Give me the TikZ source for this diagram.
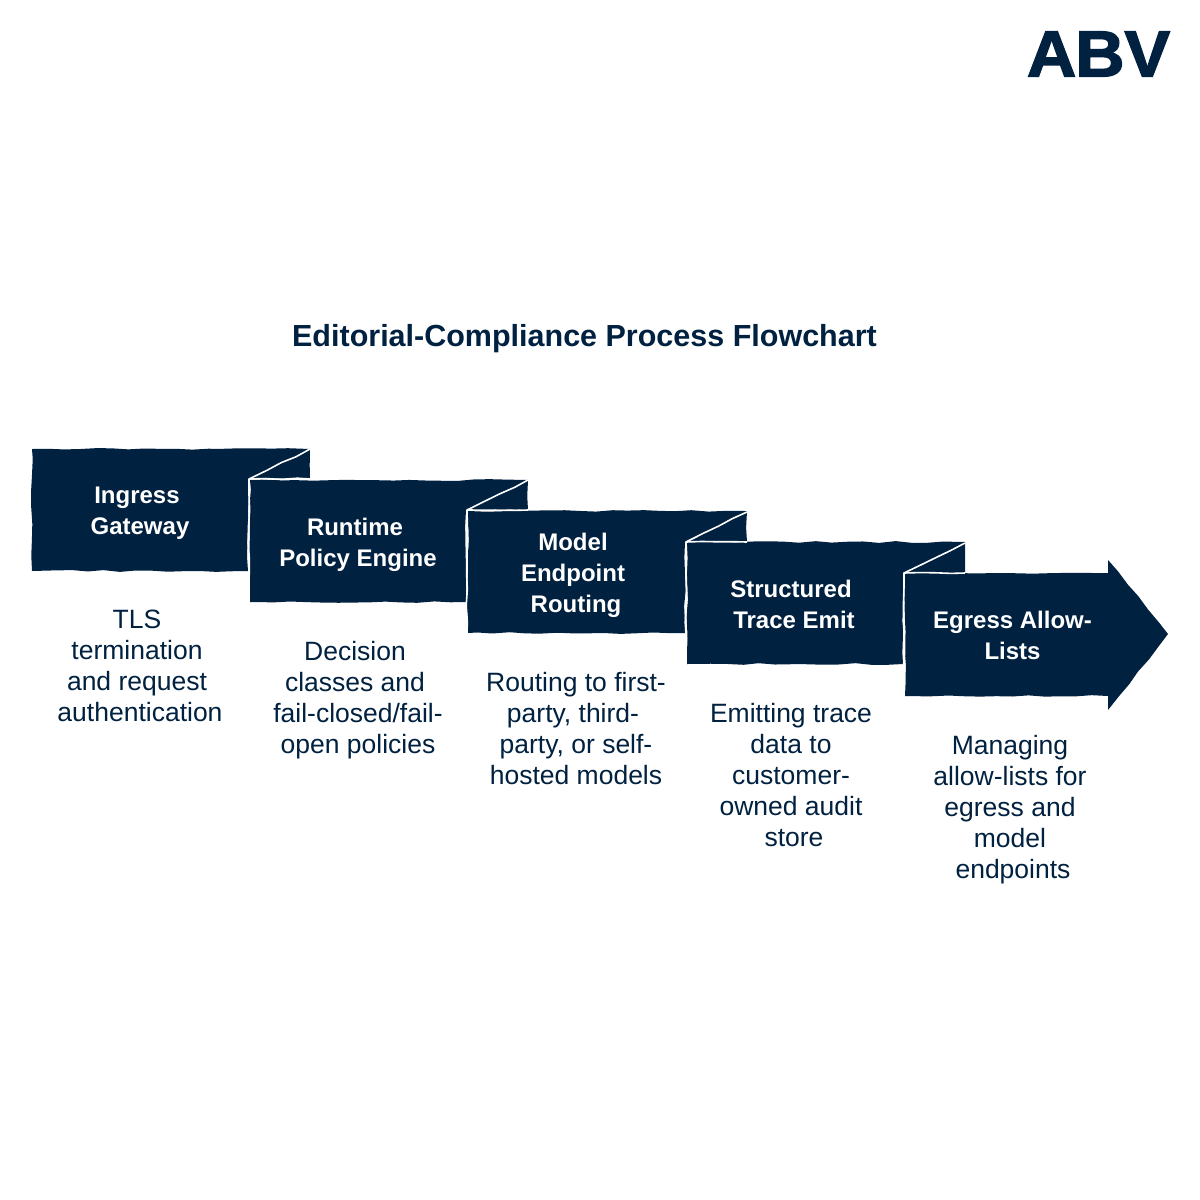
\documentclass[tikz,border=0pt]{standalone}
\usepackage{fontspec}
\setmainfont{Liberation Sans}
\newfontfamily\logofont[FakeBold=2.2,FakeStretch=1.05]{Liberation Sans Bold}
\usetikzlibrary{decorations.pathmorphing}
\definecolor{navy}{HTML}{012140}
\newcommand{\nudge}{\hspace*{6pt}}
\tikzset{
  x=1pt,y=-1pt,
  wob/.style={decorate,decoration={random steps,segment length=16pt,amplitude=0.9pt}},
  panel/.style={fill=navy,wob},
  fold/.style={draw=white,line width=1.6pt,line join=round,wob},
  headtext/.style={text=white,font=\fontsize{24}{31}\selectfont\bfseries,align=center,inner sep=0pt},
  desctext/.style={text=navy,font=\fontsize{26.5}{31}\selectfont,align=center,inner sep=0pt},
}
\begin{document}
\begin{tikzpicture}
\pgfmathsetseed{7}
\useasboundingbox (0,0) rectangle (1200,1200);
\fill[white] (0,0) rectangle (1200,1200);

\node[text=navy,font=\fontsize{65}{65}\logofont,inner sep=0pt] (logo) at (1098.5,54) {A\kern-1pt B\kern0pt V};
\node[text=navy,font=\fontsize{30.5}{36}\selectfont\bfseries,inner sep=0pt] (title) at (584.5,339) {Editorial-Compliance Process Flowchart};

% panels
\path[panel] (32,449) -- (310,449) -- (310,479) -- (248,479) -- (248,571) -- (32,571) -- cycle;
\path[panel] (250,480) -- (528,480) -- (528,510) -- (466,510) -- (466,602) -- (250,602) -- cycle;
\path[panel] (468,511) -- (747,511) -- (747,542) -- (685,542) -- (685,633) -- (468,633) -- cycle;
\path[panel] (687,542) -- (965,542) -- (965,573) -- (903,573) -- (903,664) -- (687,664) -- cycle;
\path[panel] (905,573) -- (1108,573) -- (1108,560) -- (1168,634) -- (1108,710) -- (1108,696) -- (905,696) -- cycle;

% folds
\draw[fold] (310,449) -- (249,479) -- (249,602);
\draw[fold] (249,479) -- (310,479);
\draw[fold] (528,480) -- (467,510) -- (467,633);
\draw[fold] (467,510) -- (528,510);
\draw[fold] (747,512) -- (686,542) -- (686,664);
\draw[fold] (686,542) -- (747,542);
\draw[fold] (965,543) -- (904,573) -- (904,696);
\draw[fold] (904,573) -- (965,573);

% headings
\node[headtext] (h1) at (137,513.5) {Ingress\\\nudge Gateway};
\node[headtext] (h2) at (355,544.5) {Runtime\\\nudge Policy Engine};
\node[headtext] (h3) at (573,575.5) {Model\\Endpoint\\\nudge Routing};
\node[headtext] (h4) at (791,604) {Structured\\\nudge Trace Emit};
\node[headtext] (h5) at (1012.5,635) {Egress Allow-\\Lists};

% descriptions
\node[desctext] (d1) at (137,666) {TLS\\termination\\and request\\\nudge authentication};
\node[desctext] (d2) at (355,700.5) {Decision\\classes and\\\nudge fail-closed/fail-\\\nudge open policies};
\node[desctext] (d3) at (573,729) {\nudge Routing to first-\\party, third-\\\nudge party, or self-\\\nudge hosted models};
\node[desctext] (d4) at (791,775) {Emitting trace\\data to\\customer-\\owned audit\\\nudge store};
\node[desctext] (d5) at (1010,809.5) {Managing\\allow-lists for\\egress and\\model\\\nudge endpoints};
\end{tikzpicture}
\end{document}
